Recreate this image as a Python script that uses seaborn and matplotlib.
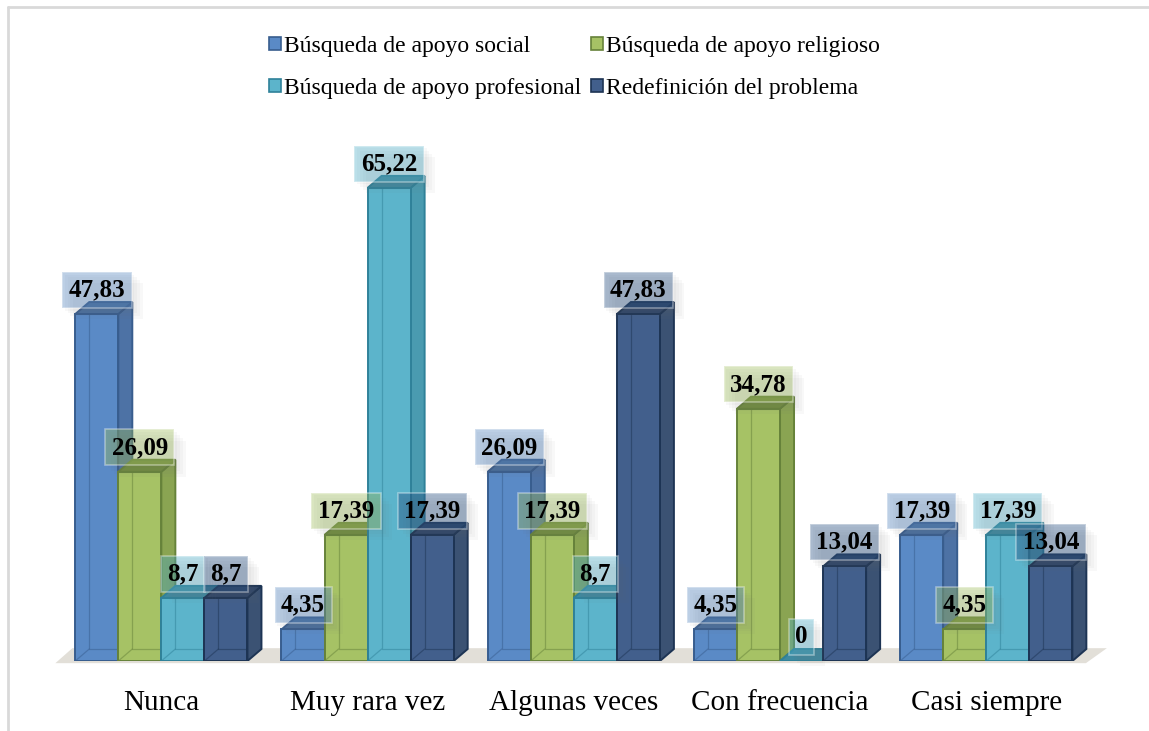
'''
    Estrategias de afrontamiento: barras 3D por frecuencia
'''

# --
# Dependancies

import matplotlib
matplotlib.use('Agg')
import matplotlib.pyplot as plt
import seaborn as sns
from matplotlib.patches import Polygon, Patch
from matplotlib.lines import Line2D
import matplotlib.patheffects as pe
import pandas as pd
import numpy as np

# --
# Data

categorias = ['Nunca', 'Muy rara vez', 'Algunas veces', 'Con frecuencia', 'Casi siempre']
series = ['Búsqueda de apoyo social', 'Búsqueda de apoyo religioso',
          'Búsqueda de apoyo profesional', 'Redefinición del problema']

apoyo_social = [47.83, 4.35, 26.09, 4.35, 17.39]
apoyo_religioso = [26.09, 17.39, 17.39, 34.78, 4.35]
apoyo_profesional = [8.7, 65.22, 8.7, 0, 17.39]
redefinicion = [8.7, 17.39, 47.83, 13.04, 13.04]

valores = [apoyo_social, apoyo_religioso, apoyo_profesional, redefinicion]

# colours: front, side, top, edge, label box
frente = ['#5a8ac6', '#a6c265', '#5cb4cb', '#425f8c']
lado = ['#4d72a5', '#8aa452', '#4a9bb0', '#3b5273']
techo = ['#4a6e9e', '#738f40', '#3f8aa0', '#2f4668']
borde = ['#385d8e', '#66823a', '#2f8199', '#1d3454']
caja = ['#4f81bd', '#9bbb59', '#4bacc6', '#1f497d']

rows = []
for s, vals in zip(series, valores):
    for c, v in zip(categorias, vals):
        rows.append({'cat': c, 'serie': s, 'val': v})
df = pd.DataFrame(rows)

# --
# Figure

sns.set_theme(style='white')
plt.rcParams['font.family'] = ['Liberation Serif', 'DejaVu Serif']
plt.rcParams['text.color'] = 'black'

W, H = 1149, 731
fig = plt.figure(figsize=(W / 100, H / 100), dpi=100)
ax = fig.add_axes([50 / W, 70 / H, 1060 / W, 531 / H])

sns.barplot(data=df, x='cat', y='val', hue='serie', order=categorias, hue_order=series,
            palette=frente, saturation=1, width=0.835, gap=0, dodge=True, legend=False,
            edgecolor='none', linewidth=0, ax=ax)

# seaborn adds bars hue by hue
serie_de = {}
k = 0
for si in range(len(series)):
    for ci in range(len(categorias)):
        serie_de[id(ax.patches[k])] = si
        k += 1
bars = sorted(list(ax.patches), key=lambda p: p.get_x())

xmin, xmax = -0.54, 4.60
ymin, ymax = 0, 73.2
ax.set_xlim(xmin, xmax)
ax.set_ylim(ymin, ymax)

# pixel -> data
px_x = (xmax - xmin) / 1060
px_y = (ymax - ymin) / 531
dxd, dyd = 14 * px_x, 12 * px_y

# --
# Floor

n = len(categorias)
fx0, fx1 = -0.514, n - 0.517
floor = Polygon([(fx0, -0.3), (fx1, -0.3), (fx1 + 21 * px_x, -0.3 + 15 * px_y),
                 (fx0 + 17 * px_x, -0.3 + 15 * px_y)],
                closed=True, fc='#e2dfd8', ec='none', zorder=0.5, clip_on=False)
ax.add_patch(floor)

# --
# 3D faces built from the seaborn bars

sombra = [pe.SimplePatchShadow(offset=(o, -o), shadow_rgbFace='#707070', alpha=0.045)
          for o in (2, 4, 6, 8)] + [pe.Normal()]

for rank, p in enumerate(bars):
    si = serie_de[id(p)]
    x0, w, h = p.get_x(), p.get_width(), p.get_height()
    z = 2 + rank * 0.01
    p.set_zorder(z + 0.005)
    p.set_edgecolor(borde[si])
    p.set_linewidth(1.4)
    side = Polygon([(x0 + w, 0), (x0 + w + dxd, dyd), (x0 + w + dxd, h + dyd), (x0 + w, h)],
                   closed=True, fc=lado[si], ec=borde[si], lw=1.4, zorder=z)
    top = Polygon([(x0, h), (x0 + w, h), (x0 + w + dxd, h + dyd), (x0 + dxd, h + dyd)],
                  closed=True, fc=techo[si], ec=borde[si], lw=1.4, zorder=z + 0.001)
    ax.add_patch(side)
    ax.add_patch(top)
    # back edges seen through the front face
    if h > dyd:
        ax.plot([x0 + dxd, x0 + dxd, x0 + w], [h, dyd, dyd],
                color=borde[si], lw=0.9, alpha=0.5, zorder=z + 0.006)
        ax.plot([x0, x0 + dxd], [0, dyd], color=borde[si], lw=0.9, alpha=0.5, zorder=z + 0.006)
    txt = f'{h:g}'.replace('.', ',')
    ann = ax.annotate(txt, (x0 + w / 2, h), xytext=(0, 17.5), textcoords='offset points',
                      ha='center', va='center', fontsize=18, fontweight='bold', color='black',
                      zorder=20,
                      bbox=dict(boxstyle='square,pad=0.26', fc=caja[si], ec='white', lw=1.2,
                                alpha=0.38))
    ann.get_bbox_patch().set_path_effects(sombra)

# --
# Axes cosmetics

sns.despine(ax=ax, left=True, bottom=True)
ax.set_yticks([])
ax.set_xlabel('')
ax.set_ylabel('')
ax.tick_params(axis='x', length=0, pad=21, labelsize=21, labelcolor='black')
ax.patch.set_alpha(0)

# --
# Legend

handles = [Patch(fc=frente[i], ec=borde[i], lw=1.2) for i in range(4)]
orden = [0, 2, 1, 3]
fig.legend([handles[i] for i in orden], [series[i] for i in orden],
           loc='center', bbox_to_anchor=(0.5, 1 - 67.5 / H), ncol=2, frameon=False,
           fontsize=17, handlelength=0.5, handleheight=0.5, handletextpad=0.13,
           columnspacing=0.4, labelspacing=0.9, borderaxespad=0, borderpad=0)

# --
# Frame

fig.add_artist(Line2D([8 / W, 1], [1 - 7 / H, 1 - 7 / H], color='#d9d9d9', lw=2))
fig.add_artist(Line2D([8 / W, 8 / W], [0, 1 - 7 / H], color='#d9d9d9', lw=2))

fig.savefig('out.png', dpi=100, facecolor='white')
